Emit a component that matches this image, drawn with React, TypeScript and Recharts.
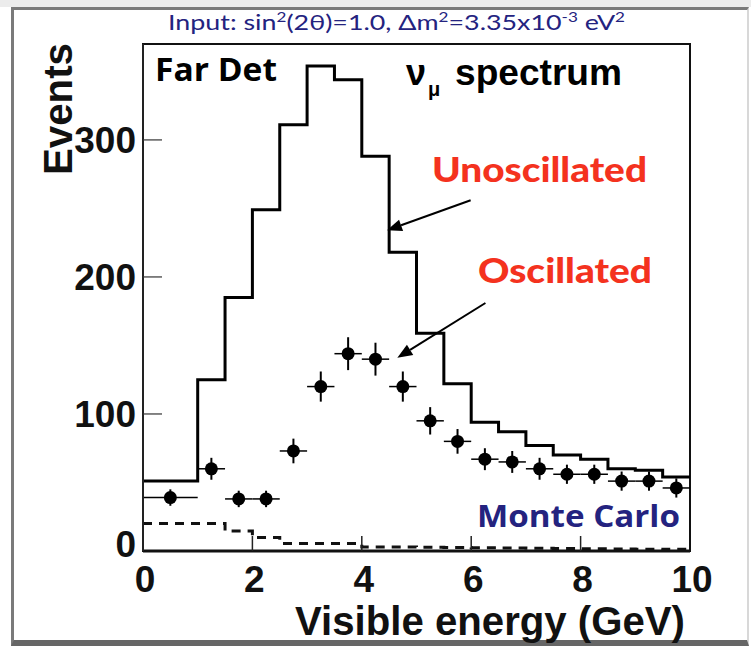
import React from 'react'
import {
  ComposedChart, Line, Scatter, ErrorBar, XAxis, YAxis, ReferenceArea, ReferenceLine,
} from 'recharts'

// bin lower edges (GeV), last bin ends at 10
const binLow = [0, 1, 1.5, 2, 2.5, 3, 3.5, 4, 4.5, 5, 5.5, 6, 6.5, 7, 7.5, 8, 8.5, 9, 9.5]
const unoscillated = [51, 125, 185, 249, 311, 354, 344, 288, 218, 159, 122, 94, 87, 77, 70, 67, 60, 59, 54]
const mcDashed = [20, 20, 14.6, 9.8, 5.4, 5.4, 5.4, 3, 3, 2.8, 2.6, 2.4, 2.2, 2, 1.8, 1.6, 1.5, 1.3, 1.2]

// oscillated MC points
const pointE = [0.5, 1.25, 1.75, 2.25, 2.75, 3.25, 3.75, 4.25, 4.75, 5.25, 5.75, 6.25, 6.75, 7.25, 7.75, 8.25, 8.75, 9.25, 9.75]
const oscillated = [39, 60, 38, 38, 73, 120, 144, 140, 120, 95, 80, 67, 65, 60, 56, 56, 51, 51, 46]
const errE = [0.5, 0.25, 0.25, 0.25, 0.25, 0.25, 0.25, 0.25, 0.25, 0.25, 0.25, 0.25, 0.25, 0.25, 0.25, 0.25, 0.25, 0.25, 0.25]
const errN = [6, 8, 6, 6, 9, 11, 12, 12, 11, 10, 9, 8, 8, 8, 7, 7, 7, 7, 7]

const xTicks = [0, 2, 4, 6, 8, 10]
const yTicks = [0, 100, 200, 300]

const arrowUnosc = [{ x: 5.99, y: 256 }, { x: 4.46, y: 234 }]
const arrowOsc = [{ x: 6.26, y: 181 }, { x: 4.65, y: 141 }]

const histData = [
  ...binLow.map((e, i) => ({ e, unosc: unoscillated[i], mc: mcDashed[i] })),
  { e: 10, unosc: unoscillated[unoscillated.length - 1], mc: mcDashed[mcDashed.length - 1] },
]
const pointData = pointE.map((e, i) => ({ e, osc: oscillated[i], ex: errE[i], ey: errN[i] }))

const axisFont = "'Liberation Sans', Arial, sans-serif"
const navy = '#24237f'
const red = '#f4321e'

const YTick = (props: any) => {
  const { x, y, payload } = props
  const ax = x + 7
  return (
    <g>
      {payload.value !== 0 && <line x1={ax} y1={y} x2={ax + 19} y2={y} stroke="#333" strokeWidth={1.2} />}
      <text x={x} y={y} dy={payload.value === 0 ? 6 : 13} textAnchor="end" fontFamily={axisFont}
        fontWeight="bold" fontSize={37} fill="#111">{payload.value}</text>
    </g>
  )
}

const XTick = (props: any) => {
  const { x, y, payload } = props
  const ay = y - 12
  return (
    <g>
      {payload.value !== 0 && payload.value !== 10 && (
        <line x1={x} y1={ay} x2={x} y2={ay - 15} stroke="#222" strokeWidth={1.5} />
      )}
      <text x={x + 2} y={y} dy={29} textAnchor="middle" fontFamily={axisFont}
        fontWeight="bold" fontSize={37} fill="#111">{payload.value}</text>
    </g>
  )
}

const Arrow = (props: any) => {
  const { x1, y1, x2, y2 } = props
  const a = Math.atan2(y2 - y1, x2 - x1)
  const L = 15, W = 6
  const bx = x2 - L * Math.cos(a), by = y2 - L * Math.sin(a)
  const px = -Math.sin(a) * W, py = Math.cos(a) * W
  return (
    <g>
      <line x1={x1} y1={y1} x2={bx} y2={by} stroke="#000" strokeWidth={2} />
      <polygon points={`${x2},${y2} ${bx + px},${by + py} ${bx - px},${by - py}`} fill="#000" />
    </g>
  )
}

const Dot = (props: any) => <circle cx={props.cx} cy={props.cy} r={6.5} fill="#000" />

export default function App() {
  return (
    <div style={{ position: 'absolute', left: 0, top: 0, width: 751, height: 649, background: '#fff', overflow: 'hidden' }}>
      <div style={{ position: 'absolute', left: 0, top: 0, width: 751, height: 7, background: '#ececec' }} />
      <div style={{
        position: 'absolute', left: 11, top: 7, width: 733, height: 630,
        borderLeft: '3px solid #7a7a7a', borderTop: '3px solid #7a7a7a',
        borderRight: '2px solid #d8d8d8', borderBottom: '6px solid #666',
      }} />
      <div style={{ position: 'absolute', left: 0, top: 0 }}>
        <ComposedChart width={751} height={649} margin={{ top: 44, right: 61, bottom: 0, left: 0 }}>
          <XAxis dataKey="e" type="number" domain={[0, 10]} ticks={xTicks} height={98}
            tickLine={false} tickSize={0} tickMargin={12} tick={<XTick />}
            axisLine={{ stroke: '#111', strokeWidth: 3 }} allowDataOverflow />
          <YAxis type="number" domain={[0, 370]} ticks={yTicks} width={143}
            tickLine={false} tickSize={0} tickMargin={7} tick={<YTick />}
            axisLine={{ stroke: '#222', strokeWidth: 2 }} allowDataOverflow />
          <ReferenceArea x1={0} x2={10} y1={0} y2={370} fill="none" fillOpacity={0}
            stroke="#111" strokeWidth={2} ifOverflow="visible" />
          <Line data={histData} dataKey="mc" type="stepAfter" stroke="#111" strokeWidth={3}
            strokeDasharray="9 7" dot={false} activeDot={false} isAnimationActive={false} />
          <Line data={histData} dataKey="unosc" type="stepAfter" stroke="#000" strokeWidth={3}
            dot={false} activeDot={false} isAnimationActive={false} />
          <Scatter data={pointData} dataKey="osc" shape={<Dot />} isAnimationActive={false}>
            <ErrorBar dataKey="ey" direction="y" width={0} stroke="#000" strokeWidth={2} isAnimationActive={false} />
            <ErrorBar dataKey="ex" direction="x" width={0} stroke="#000" strokeWidth={1.5} isAnimationActive={false} />
          </Scatter>
          <ReferenceLine segment={arrowUnosc} shape={<Arrow />} ifOverflow="visible" />
          <ReferenceLine segment={arrowOsc} shape={<Arrow />} ifOverflow="visible" />
        </ComposedChart>
      </div>
      <svg width={751} height={649} style={{ position: 'absolute', left: 0, top: 0, pointerEvents: 'none' }}>
        <text x={168} y={30} fontFamily="Lato, 'Open Sans', sans-serif" fontSize={22} fill={navy}
          textLength={457} lengthAdjust="spacingAndGlyphs">
          Input: sin<tspan dy={-8} fontSize={14}>2</tspan><tspan dy={8}>(2θ)=1.0, Δm</tspan>
          <tspan dy={-8} fontSize={14}>2</tspan><tspan dy={8}>=3.35x10</tspan>
          <tspan dy={-8} fontSize={14}>-3</tspan><tspan dy={8}> eV</tspan>
          <tspan dy={-8} fontSize={14}>2</tspan>
        </text>
        <text x={155} y={81} fontFamily="'Open Sans', sans-serif" fontWeight={700} fontSize={33} fill="#000"
          textLength={122} lengthAdjust="spacingAndGlyphs">Far Det</text>
        <text x={406} y={85} fontFamily={axisFont} fontWeight="bold" fontSize={36} fill="#000">ν</text>
        <text x={428} y={96} fontFamily={axisFont} fontWeight="bold" fontSize={20} fill="#000">μ</text>
        <text x={455} y={85} fontFamily={axisFont} fontWeight="bold" fontSize={36} fill="#000"
          textLength={167} lengthAdjust="spacingAndGlyphs">spectrum</text>
        <text x={432} y={182} fontFamily="Lato, sans-serif" fontWeight={900} fontSize={35} fill={red}
          textLength={215} lengthAdjust="spacingAndGlyphs">Unoscillated</text>
        <text x={478} y={283} fontFamily="Lato, sans-serif" fontWeight={900} fontSize={34} fill={red}
          textLength={174} lengthAdjust="spacingAndGlyphs">Oscillated</text>
        <text x={477} y={527} fontFamily="'Open Sans', sans-serif" fontWeight={700} fontSize={31} fill={navy}
          textLength={203} lengthAdjust="spacingAndGlyphs">Monte Carlo</text>
        <text x={0} y={0} transform="translate(72,175) rotate(-90)" fontFamily={axisFont} fontWeight="bold"
          fontSize={41} fill="#111" textLength={132} lengthAdjust="spacingAndGlyphs">Events</text>
        <text x={295} y={635} fontFamily={axisFont} fontWeight="bold" fontSize={41} fill="#111"
          textLength={390} lengthAdjust="spacingAndGlyphs">Visible energy (GeV)</text>
      </svg>
    </div>
  )
}
